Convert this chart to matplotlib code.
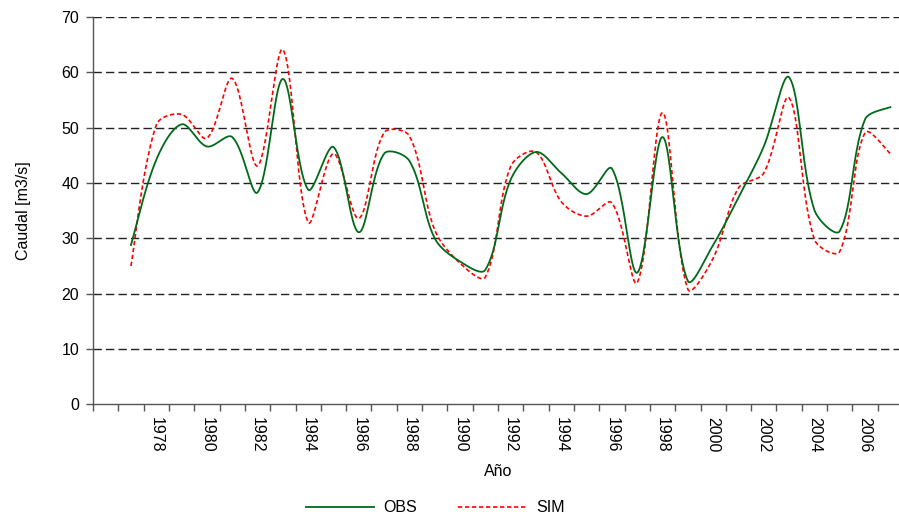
import numpy as np
import matplotlib
matplotlib.use("Agg")
import matplotlib.pyplot as plt

years = list(range(1977, 2008))
obs = [28.8, 44.2, 50.6, 46.6, 48.3, 38.3, 58.8, 38.8, 46.5, 31.1,
       45.3, 44.0, 30.0, 25.8, 24.3, 40.6, 45.6, 41.8, 38.0, 42.6,
       23.8, 48.3, 22.3, 28.8, 37.4, 46.6, 59.1, 35.1, 31.3, 51.5, 53.7]
sim = [25.0, 50.5, 52.4, 48.1, 58.9, 43.1, 64.1, 32.9, 45.3, 33.6,
       49.1, 48.5, 31.5, 25.5, 23.0, 43.0, 45.6, 36.6, 34.0, 36.4,
       22.0, 52.7, 20.8, 26.4, 39.1, 41.8, 55.4, 29.8, 27.6, 49.1, 45.3]
tick_labels = [str(y) for y in range(1978, 2007, 2)]

SX, SY = 25.3, 5.53  # screen pixels per year / per unit (for chord lengths)


def smooth(x, y, n=40):
    # Bezier smoothing similar to spreadsheet "smoothed line" (chord-weighted)
    x = np.asarray(x, float)
    y = np.asarray(y, float)
    m = len(x)
    cout = np.zeros((m, 2))
    cin = np.zeros((m, 2))
    for i in range(m):
        pi = np.array([x[i], y[i]])
        pp = np.array([x[i - 1], y[i - 1]]) if i > 0 else pi
        pn = np.array([x[i + 1], y[i + 1]]) if i < m - 1 else pi
        T = pn - pp
        dp = np.hypot((pi[0] - pp[0]) * SX, (pi[1] - pp[1]) * SY)
        dn = np.hypot((pn[0] - pi[0]) * SX, (pn[1] - pi[1]) * SY)
        tot = dp + dn if dp + dn > 0 else 1.0
        if i == 0 or i == m - 1:
            cout[i] = pi + T / 6
            cin[i] = pi - T / 6
        else:
            cout[i] = pi + T * (dn / tot) / 3
            cin[i] = pi - T * (dp / tot) / 3
    t = np.linspace(0, 1, n, endpoint=False)
    b0 = (1 - t) ** 3
    b1 = 3 * (1 - t) ** 2 * t
    b2 = 3 * (1 - t) * t ** 2
    b3 = t ** 3
    xs, ys = [], []
    for i in range(m - 1):
        xs.append(b0 * x[i] + b1 * cout[i][0] + b2 * cin[i + 1][0] + b3 * x[i + 1])
        ys.append(b0 * y[i] + b1 * cout[i][1] + b2 * cin[i + 1][1] + b3 * y[i + 1])
    xs.append([x[-1]])
    ys.append([y[-1]])
    return np.concatenate(xs), np.concatenate(ys)


plt.rcParams['font.family'] = ['Liberation Sans', 'DejaVu Sans']
plt.rcParams['font.size'] = 11.5

fig = plt.figure(figsize=(8.99, 5.21), dpi=100)
ax = fig.add_axes([93 / 899, (521 - 404.3) / 521, 810 / 899, 387.3 / 521])

spine_c = '#555555'
for yv in range(10, 71, 10):
    ax.axhline(yv, color='#222222', lw=1.0, linestyle=(0, (6, 3)), zorder=1)

xo, yo = smooth(years, obs)
xs_, ys_ = smooth(years, sim)
ax.plot(xs_, ys_, color='#ff0000', lw=1.2, linestyle=(0, (2.6, 1.6)), label='SIM', zorder=3)
ax.plot(xo, yo, color='#006a1a', lw=1.3, label='OBS', zorder=4)

ax.set_xlim(1975.5, 2007.5)
ax.set_ylim(0, 70)
ax.set_yticks(range(0, 71, 10))
ax.set_xticks([int(t) for t in tick_labels])
ax.set_xticklabels(tick_labels, rotation=-90)
ax.set_xticks(np.arange(1975.5, 2007.6, 1.0), minor=True)
ax.tick_params(axis='x', which='major', length=0, pad=9)
ax.tick_params(axis='x', which='minor', length=5, color=spine_c, width=1)
ax.tick_params(axis='y', length=5, color=spine_c, width=1, pad=5)
for s in ['top', 'right']:
    ax.spines[s].set_visible(False)
for s in ['left', 'bottom']:
    ax.spines[s].set_color(spine_c)
    ax.spines[s].set_linewidth(1.0)

ax.set_xlabel('Año', labelpad=8)
ax.set_ylabel('Caudal [m3/s]', labelpad=22)

h, l = ax.get_legend_handles_labels()
fig.legend([h[1], h[0]], [l[1], l[0]], loc='center', bbox_to_anchor=(0.484, 0.025),
           ncol=2, frameon=False, handlelength=4.3, handletextpad=0.55, columnspacing=2.6)

fig.savefig('out.png', dpi=100)
